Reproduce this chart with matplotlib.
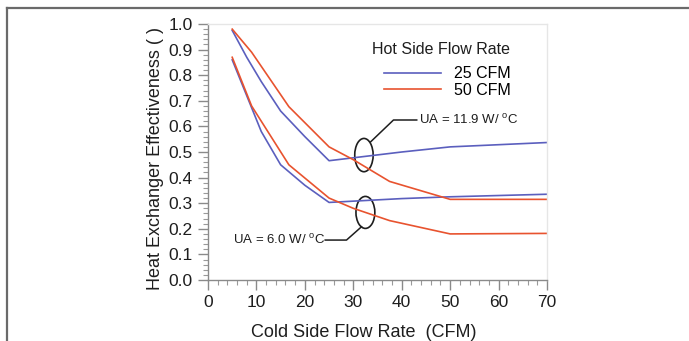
import numpy as np
import matplotlib
matplotlib.use("Agg")
import matplotlib.pyplot as plt
from matplotlib.patches import Ellipse
from matplotlib.lines import Line2D
from matplotlib.ticker import MultipleLocator

plt.rcParams['font.family'] = ['Liberation Sans', 'DejaVu Sans']
plt.rcParams['mathtext.fontset'] = 'custom'
plt.rcParams['mathtext.rm'] = 'Liberation Sans'

# cold side flow rate (CFM) and effectiveness
x_25 = [5, 8, 11, 15, 20, 25, 40, 50, 70]
ua119_25 = [0.975, 0.87, 0.775, 0.66, 0.56, 0.466, 0.50, 0.52, 0.537]
ua60_25 = [0.86, 0.72, 0.58, 0.45, 0.37, 0.303, 0.318, 0.325, 0.335]

x_50 = [5, 9, 16.7, 25, 30, 37.5, 50, 70]
ua119_50 = [0.98, 0.89, 0.677, 0.52, 0.47, 0.385, 0.315, 0.315]
ua60_50 = [0.87, 0.68, 0.45, 0.32, 0.28, 0.232, 0.18, 0.182]

legend_title = "Hot Side Flow Rate"
legend_labels = ["25 CFM", "50 CFM"]

blue = "#5b5fbe"
red = "#e8532f"
ink = "#1e1e1e"

fig = plt.figure(figsize=(6.89, 3.41), dpi=100)
ax = fig.add_axes([208/689, 1 - 280/341, (547-208)/689, (280-24)/341])

l1, = ax.plot(x_25, ua119_25, color=blue, lw=1.2)
ax.plot(x_25, ua60_25, color=blue, lw=1.2)
l2, = ax.plot(x_50, ua119_50, color=red, lw=1.2)
ax.plot(x_50, ua60_50, color=red, lw=1.2)

ax.set_xlim(0, 70)
ax.set_ylim(0, 1.0)
ax.xaxis.set_major_locator(MultipleLocator(10))
ax.xaxis.set_minor_locator(MultipleLocator(2))
ax.yaxis.set_major_locator(MultipleLocator(0.1))
ax.yaxis.set_minor_locator(MultipleLocator(0.02))
ax.yaxis.set_major_formatter(matplotlib.ticker.FormatStrFormatter('%.1f'))

for s in ['left', 'bottom']:
    ax.spines[s].set_color('#8a8a8a')
    ax.spines[s].set_linewidth(1.0)
for s in ['top', 'right']:
    ax.spines[s].set_color('#e6e6e6')
    ax.spines[s].set_linewidth(1.0)
ax.tick_params(which='major', direction='out', length=7, width=1, color='#8a8a8a',
               labelsize=12.5, labelcolor=ink, pad=4)
ax.tick_params(which='minor', direction='out', length=3.5, width=0.8, color='#9a9a9a')

ax.set_xlabel("Cold Side Flow Rate  (CFM)", fontsize=13, color=ink)
ax.set_ylabel("Heat Exchanger Effectiveness ( )", fontsize=13, color=ink)
ax.xaxis.set_label_coords(0.459, -0.172)
ax.yaxis.set_label_coords(-0.130, 0.475)

# legend: title as text, entries below it
ax.text(0.687, 0.902, legend_title, transform=ax.transAxes, fontsize=11.5,
        ha='center', va='center', color=ink)
ax.legend([l1, l2], legend_labels, loc='center', bbox_to_anchor=(0.706, 0.773),
          frameon=False, fontsize=11.5, handlelength=3.6, handletextpad=0.8,
          labelspacing=0.12, borderpad=0.2)

# callouts
ax.add_patch(Ellipse((32.2, 0.488), 3.8, 0.13, fill=False, ec=ink, lw=1.2))
ax.plot([33.6, 38.3, 43.1], [0.54, 0.625, 0.625], color=ink, lw=1.1)
ax.text(43.6, 0.625, r"UA = 11.9 W/ $^{\mathrm{o}}$C", fontsize=9.5, va='center',
        ha='left', color=ink)

ax.add_patch(Ellipse((32.5, 0.264), 3.9, 0.125, fill=False, ec=ink, lw=1.2))
ax.plot([31.7, 28.6, 24.2], [0.208, 0.156, 0.156], color=ink, lw=1.1)
ax.text(24.1, 0.156, r"UA = 6.0 W/ $^{\mathrm{o}}$C", fontsize=9.5, va='center',
        ha='right', color=ink)

# outer frame
fig.add_artist(Line2D([7/689, 7/689], [0, 1 - 8/341], transform=fig.transFigure,
                      color='#6a6a6a', lw=1.6))
fig.add_artist(Line2D([7/689, 1], [1 - 8/341, 1 - 8/341], transform=fig.transFigure,
                      color='#6a6a6a', lw=1.6))

fig.savefig("out.png", dpi=100)
